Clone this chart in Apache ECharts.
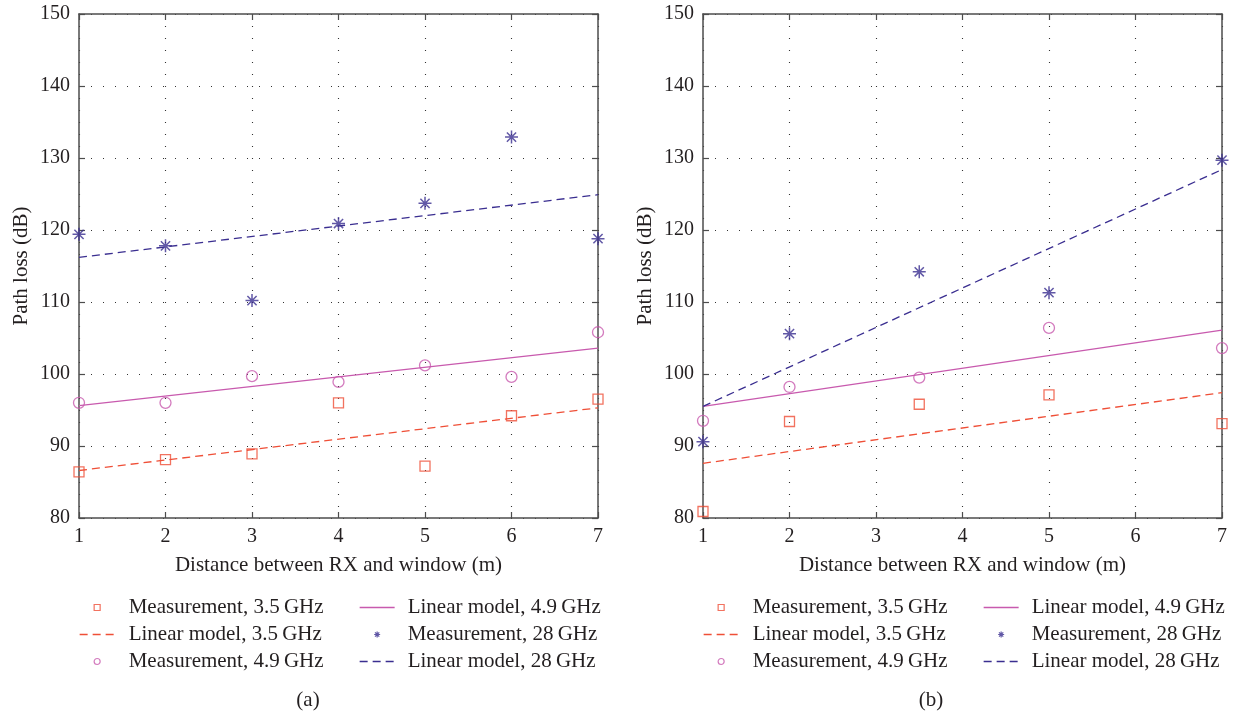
<!DOCTYPE html>
<html>
<head>
<meta charset="utf-8">
<script src="https://cdn.jsdelivr.net/npm/echarts@6/dist/echarts.min.js"></script>
<style>
html,body{margin:0;padding:0;background:#fff;}
#chart{width:1234px;height:712px;}
</style>
</head>
<body>
<div id="chart"></div>
<script>
// ---------- data ----------
const xTicks = [1, 2, 3, 4, 5, 6, 7];
const yTicks = [80, 90, 100, 110, 120, 130, 140, 150];

// (a)
const xA = [1, 2, 3, 4, 5, 6, 7];
const meas35A = [86.4, 88.1, 88.9, 96.0, 87.2, 94.2, 96.5];
const meas49A = [96.0, 96.0, 99.7, 98.9, 101.2, 99.6, 105.8];
const meas28A = [119.4, 117.8, 110.2, 120.9, 123.7, 132.9, 118.8];
const fitX = [1, 7];
const fit35A = [86.6, 95.3];
const fit49A = [95.6, 103.6];
const fit28A = [116.2, 124.9];

// (b)
const xB = [1, 2, 3.5, 5, 7];
const meas35B = [80.9, 93.4, 95.8, 97.1, 93.1];
const meas49B = [93.5, 98.2, 99.5, 106.4, 103.6];
const meas28B = [90.6, 105.6, 114.2, 111.3, 129.7];
const fit35B = [87.6, 97.4];
const fit49B = [95.5, 106.1];
const fit28B = [95.5, 128.4];

const names = {
  m35: 'Measurement, 3.5\u2009GHz',
  l35: 'Linear model, 3.5\u2009GHz',
  m49: 'Measurement, 4.9\u2009GHz',
  l49: 'Linear model, 4.9\u2009GHz',
  m28: 'Measurement, 28\u2009GHz',
  l28: 'Linear model, 28\u2009GHz'
};
const captions = ['(a)', '(b)'];
const xName = 'Distance between RX and window (m)';
const yName = 'Path loss (dB)';

// ---------- style ----------
const FONT = "'Liberation Serif', 'DejaVu Serif', serif";
const TXT = '#231f20';
const C35 = '#ef4f37';
const C49 = '#c85aae';
const C28 = '#3a2e90';
const FRAME = '#4d4d4d';
const STAR = 'path://M0,5L10,5M5,0L5,10M1.46,1.46L8.54,8.54M1.46,8.54L8.54,1.46';
const SQUARE = 'path://M0,0L10,0L10,10L0,10Z';

const grids = [
  {left: 79, top: 14, width: 519, height: 504},
  {left: 703, top: 14, width: 519, height: 504}
];

const xAxes = [], yAxes = [];
grids.forEach((g, i) => {
  xAxes.push({
    type: 'value', gridIndex: i, min: xTicks[0], max: xTicks[xTicks.length - 1], interval: 1,
    position: 'bottom',
    name: xName, nameLocation: 'middle', nameGap: 37,
    nameTextStyle: {fontFamily: FONT, fontSize: 21, color: TXT},
    axisLine: {show: true, lineStyle: {color: FRAME, width: 1.5}},
    axisTick: {show: true, inside: true, length: 6, lineStyle: {color: FRAME, width: 1.2}},
    axisLabel: {fontFamily: FONT, fontSize: 20, color: TXT, margin: 9},
    splitLine: {show: true, lineStyle: {color: '#333', width: 1.1, type: [1, 11]}}
  });
  xAxes.push({
    type: 'value', gridIndex: i, min: xTicks[0], max: xTicks[xTicks.length - 1], interval: 1,
    position: 'top',
    axisLine: {show: true, lineStyle: {color: FRAME, width: 1.5}},
    axisTick: {show: true, inside: true, length: 6, lineStyle: {color: FRAME, width: 1.2}},
    axisLabel: {show: false},
    splitLine: {show: false}
  });
  yAxes.push({
    type: 'value', gridIndex: i, min: yTicks[0], max: yTicks[yTicks.length - 1], interval: 10,
    position: 'left',
    name: yName, nameLocation: 'middle', nameGap: 47,
    nameTextStyle: {fontFamily: FONT, fontSize: 21, color: TXT},
    axisLine: {show: true, lineStyle: {color: FRAME, width: 1.5}},
    axisTick: {show: true, inside: true, length: 6, lineStyle: {color: FRAME, width: 1.2}},
    axisLabel: {fontFamily: FONT, fontSize: 20, color: TXT, margin: 9},
    splitLine: {show: true, lineStyle: {color: '#333', width: 1.1, type: [1, 11]}}
  });
  yAxes.push({
    type: 'value', gridIndex: i, min: yTicks[0], max: yTicks[yTicks.length - 1], interval: 10,
    position: 'right',
    axisLine: {show: true, lineStyle: {color: FRAME, width: 1.5}},
    axisTick: {show: true, inside: true, length: 6, lineStyle: {color: FRAME, width: 1.2}},
    axisLabel: {show: false},
    splitLine: {show: false}
  });
});

function pairs(xs, ys) { return xs.map((x, k) => [x, ys[k]]); }

function scatter(name, xs, ys, idx, symbol, size, color, bw) {
  return {
    type: 'scatter', name: name, xAxisIndex: idx * 2, yAxisIndex: idx * 2,
    data: pairs(xs, ys), symbol: symbol, symbolSize: size, z: 5,
    itemStyle: {color: 'rgba(0,0,0,0)', borderColor: color, borderWidth: bw},
    emphasis: {disabled: true}, silent: true
  };
}
function fit(name, ys, idx, color, dashed) {
  return {
    type: 'line', name: name, xAxisIndex: idx * 2, yAxisIndex: idx * 2,
    data: pairs(fitX, ys), symbol: 'none', z: 3,
    lineStyle: {color: color, width: 1.3, type: dashed ? [8, 5] : 'solid'},
    itemStyle: {color: color},
    emphasis: {disabled: true}, silent: true
  };
}

const series = [
  scatter(names.m35, xA, meas35A, 0, SQUARE, 10, C35, 1.3),
  fit(names.l35, fit35A, 0, C35, true),
  scatter(names.m49, xA, meas49A, 0, 'circle', 11, C49, 1.3),
  fit(names.l49, fit49A, 0, C49, false),
  scatter(names.m28, xA, meas28A, 0, STAR, 13, C28, 1.5),
  fit(names.l28, fit28A, 0, C28, true),

  scatter(names.m35, xB, meas35B, 1, SQUARE, 10, C35, 1.3),
  fit(names.l35, fit35B, 1, C35, true),
  scatter(names.m49, xB, meas49B, 1, 'circle', 11, C49, 1.3),
  fit(names.l49, fit49B, 1, C49, false),
  scatter(names.m28, xB, meas28B, 1, STAR, 13, C28, 1.5),
  fit(names.l28, fit28B, 1, C28, true)
];

const lineNames = [names.l35, names.l49, names.l28];
function legendItem(n) {
  if (lineNames.indexOf(n) >= 0) {
    return {name: n, itemStyle: {color: 'rgba(0,0,0,0)', borderColor: 'rgba(0,0,0,0)', borderWidth: 0}};
  }
  return {name: n};
}

function legend(left, data, pad) {
  return {
    orient: 'vertical', left: left, top: 597, padding: 0,
    itemWidth: 35, itemHeight: 6, itemGap: 6,
    selectedMode: false,
    data: data.map(legendItem),
    itemStyle: {borderWidth: 1.2},
    lineStyle: {width: 1.3},
    textStyle: {fontFamily: FONT, fontSize: 21, lineHeight: 21, color: TXT, padding: [0, 0, 0, pad]}
  };
}

const option = {
  animation: false,
  backgroundColor: '#ffffff',
  grid: grids,
  xAxis: xAxes,
  yAxis: yAxes,
  legend: [
    legend(79, [names.m35, names.l35, names.m49], 9),
    legend(359, [names.l49, names.m28, names.l28], 8),
    legend(703, [names.m35, names.l35, names.m49], 9),
    legend(983, [names.l49, names.m28, names.l28], 8)
  ],
  graphic: [
    {type: 'text', x: 308, y: 700, style: {text: captions[0], align: 'center', verticalAlign: 'middle', fontFamily: FONT, fontSize: 21, fill: TXT}},
    {type: 'text', x: 931, y: 700, style: {text: captions[1], align: 'center', verticalAlign: 'middle', fontFamily: FONT, fontSize: 21, fill: TXT}}
  ],
  series: series
};

const chart = echarts.init(document.getElementById('chart'), null, {renderer: 'canvas'});
chart.setOption(option);
</script>
</body>
</html>
